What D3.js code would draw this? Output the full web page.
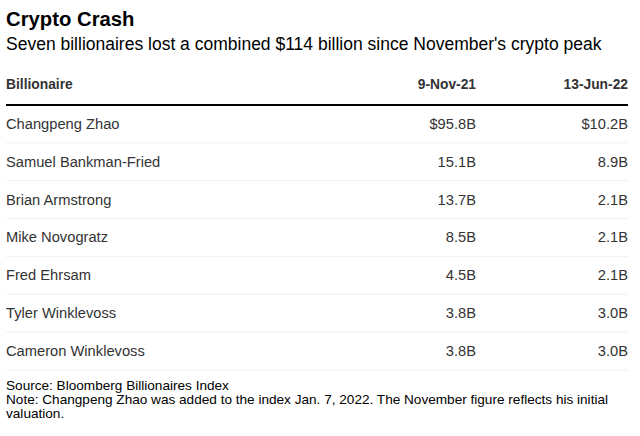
<!DOCTYPE html>
<html>
<head>
<meta charset="utf-8">
<script src="https://cdn.jsdelivr.net/npm/d3@7"></script>
<style>
  body { margin: 0; background: #fff; }
  text { font-family: "Liberation Sans", Arial, sans-serif; }
</style>
</head>
<body>
<svg id="chart" width="640" height="436"></svg>
<script>
// table data
const columns = ["Billionaire", "9-Nov-21", "13-Jun-22"];
const names = ["Changpeng Zhao", "Samuel Bankman-Fried", "Brian Armstrong", "Mike Novogratz",
  "Fred Ehrsam", "Tyler Winklevoss", "Cameron Winklevoss"];
const nov21 = [95.8, 15.1, 13.7, 8.5, 4.5, 3.8, 3.8];
const jun22 = [10.2, 8.9, 2.1, 2.1, 2.1, 3.0, 3.0];

const W = 640, H = 436;
const left = 6, right = 628;
const svg = d3.select("#chart");

// title block
svg.append("text").attr("x", left).attr("y", 26)
  .attr("font-size", 20.3).attr("font-weight", "bold").attr("fill", "#000")
  .text("Crypto Crash");
svg.append("text").attr("x", left).attr("y", 50)
  .attr("font-size", 17.5).attr("fill", "#000")
  .text("Seven billionaires lost a combined $114 billion since November's crypto peak");

// columns: name left-aligned, values right-aligned
const colX = [left, 476, right];
const colAnchor = ["start", "end", "end"];

svg.selectAll("text.head").data(columns).join("text")
  .attr("class", "head")
  .attr("x", (d, i) => colX[i]).attr("y", 89)
  .attr("text-anchor", (d, i) => colAnchor[i])
  .attr("font-size", 13.8).attr("font-weight", "bold").attr("fill", "#333")
  .text(d => d);

svg.append("line").attr("x1", left).attr("x2", right)
  .attr("y1", 105).attr("y2", 105)
  .attr("stroke", "#000").attr("stroke-width", 2);

const y = d3.scaleBand().domain(d3.range(names.length)).range([105, 370]);

const fmt = (v, i) => (i === 0 ? "$" : "") + v.toFixed(1) + "B";
const rows = names.map((n, i) => [n, fmt(nov21[i], i), fmt(jun22[i], i)]);

const row = svg.selectAll("g.row").data(rows).join("g")
  .attr("class", "row")
  .attr("transform", (d, i) => `translate(0,${y(i)})`);

row.append("line").attr("x1", left).attr("x2", right)
  .attr("y1", y.bandwidth()).attr("y2", y.bandwidth())
  .attr("stroke", "#f0f0f0").attr("stroke-width", 1);

row.selectAll("text").data(d => d).join("text")
  .attr("x", (d, i) => colX[i]).attr("y", y.bandwidth() / 2 + 5)
  .attr("text-anchor", (d, i) => colAnchor[i])
  .attr("font-size", 14.7).attr("fill", "#333")
  .text(d => d);

// footnotes
const notes = ["Source: Bloomberg Billionaires Index",
  "Note: Changpeng Zhao was added to the index Jan. 7, 2022. The November figure reflects his initial",
  "valuation."];
svg.selectAll("text.note").data(notes).join("text")
  .attr("class", "note")
  .attr("x", left).attr("y", (d, i) => 390 + i * 14)
  .attr("font-size", 13.6).attr("fill", "#000")
  .text(d => d);
</script>
</body>
</html>
